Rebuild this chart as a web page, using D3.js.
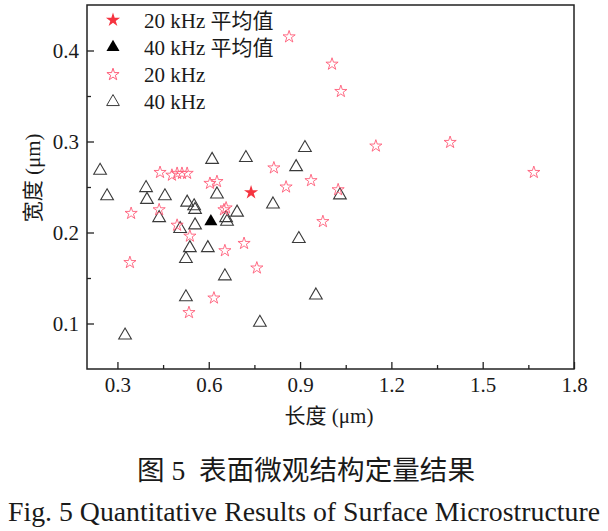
<!DOCTYPE html>
<html>
<head>
<meta charset="utf-8">
<script src="https://cdn.jsdelivr.net/npm/d3@7"></script>
<style>
  body { margin: 0; background: #fff; }
  text { font-family: "Liberation Serif", "Noto Sans CJK SC", serif; fill: #1a1a1a; }
</style>
</head>
<body>
<div id="chart"></div>
<script>
// 20 kHz samples: length / width (um)
const len20 = [0.440, 0.479, 0.496, 0.512, 0.529, 0.345, 0.437, 0.496, 0.538, 0.604,
               0.627, 0.650, 0.657, 0.716, 0.653, 0.758, 0.341, 0.617, 0.535, 0.814,
               0.854, 0.936, 1.025, 0.975, 0.864, 1.005, 1.034, 1.149, 1.393, 1.668];
const wid20 = [0.266, 0.263, 0.265, 0.265, 0.265, 0.221, 0.225, 0.208, 0.196, 0.254,
               0.256, 0.225, 0.227, 0.188, 0.180, 0.161, 0.167, 0.128, 0.112, 0.271,
               0.250, 0.257, 0.247, 0.212, 0.415, 0.385, 0.355, 0.295, 0.299, 0.266];

// 40 kHz samples
const len40 = [0.243, 0.266, 0.394, 0.397, 0.456, 0.611, 0.722, 0.529, 0.552, 0.555,
               0.437, 0.506, 0.555, 0.627, 0.538, 0.597, 0.525, 0.653, 0.525, 0.768,
               0.325, 0.657, 0.660, 0.693, 0.811, 0.916, 0.887, 1.031, 0.896, 0.952];
const wid40 = [0.268, 0.240, 0.249, 0.236, 0.240, 0.280, 0.282, 0.233, 0.229, 0.225,
               0.216, 0.204, 0.208, 0.242, 0.183, 0.183, 0.171, 0.152, 0.129, 0.101,
               0.087, 0.216, 0.212, 0.222, 0.231, 0.293, 0.272, 0.241, 0.193, 0.131];

// mean values [length, width]
const mean20 = [0.739, 0.244];
const mean40 = [0.607, 0.212];

const xTicks = [0.3, 0.6, 0.9, 1.2, 1.5, 1.8];
const xMinor = [0.45, 0.75, 1.05, 1.35, 1.65];
const yTicks = [0.1, 0.2, 0.3, 0.4];
const yMinor = [0.15, 0.25, 0.35];
const legendLabels = ['20 kHz 平均值', '40 kHz 平均值', '20 kHz', '40 kHz'];

// dimensions
const W = 608, H = 531;
const margin = { top: 5, left: 87 };
const width = 487, height = 364;

const starColor = '#ff5c78';
const meanStarColor = '#f5333f';
const triColor = '#3a3a3a';

const svg = d3.select('#chart')
  .append('svg')
  .attr('width', W)
  .attr('height', H);

const g = svg.append('g')
  .attr('transform', `translate(${margin.left},${margin.top})`);

const x = d3.scaleLinear().domain([0.2, 1.8]).range([0, width]);
const y = d3.scaleLinear().domain([0.05, 0.45]).range([height, 0]);

// major ticks point inward
const xAxis = d3.axisBottom(x).tickValues(xTicks).tickSizeInner(-7).tickSizeOuter(0)
  .tickPadding(8).tickFormat(d3.format('.1f'));
const yAxis = d3.axisLeft(y).tickValues(yTicks).tickSizeInner(-7).tickSizeOuter(0)
  .tickPadding(8).tickFormat(d3.format('.1f'));

const gx = g.append('g').attr('transform', `translate(0,${height})`).call(xAxis);
const gy = g.append('g').call(yAxis);

// minor ticks
const gxm = g.append('g').attr('transform', `translate(0,${height})`)
  .call(d3.axisBottom(x).tickValues(xMinor).tickSizeInner(-4).tickSizeOuter(0).tickFormat(''));
const gym = g.append('g')
  .call(d3.axisLeft(y).tickValues(yMinor).tickSizeInner(-4).tickSizeOuter(0).tickFormat(''));

[gx, gy, gxm, gym].forEach(a => {
  a.select('.domain').remove();
  a.selectAll('line').attr('stroke', '#222').attr('stroke-width', 1.3);
  a.selectAll('text').style('font-size', '21px').attr('fill', '#1a1a1a');
});

// frame
g.append('rect')
  .attr('x', 0).attr('y', 0)
  .attr('width', width).attr('height', height)
  .attr('fill', 'none')
  .attr('stroke', '#222')
  .attr('stroke-width', 1.5);

// symbols
const star = d3.symbol().type(d3.symbolStar).size(46);
const starBig = d3.symbol().type(d3.symbolStar).size(62);
const tri = d3.symbol().type(d3.symbolTriangle).size(70);
const triBig = d3.symbol().type(d3.symbolTriangle).size(74);

const pts40 = len40.map((v, i) => [v, wid40[i]]);
const pts20 = len20.map((v, i) => [v, wid20[i]]);

g.selectAll('.p40')
  .data(pts40)
  .enter()
  .append('path')
  .attr('class', 'p40')
  .attr('d', tri)
  .attr('transform', d => `translate(${x(d[0])},${y(d[1])})`)
  .attr('fill', 'none')
  .attr('stroke', triColor)
  .attr('stroke-width', 1.1);

g.selectAll('.p20')
  .data(pts20)
  .enter()
  .append('path')
  .attr('class', 'p20')
  .attr('d', star)
  .attr('transform', d => `translate(${x(d[0])},${y(d[1])})`)
  .attr('fill', 'none')
  .attr('stroke', starColor)
  .attr('stroke-width', 0.9);

g.append('path')
  .attr('d', starBig)
  .attr('transform', `translate(${x(mean20[0])},${y(mean20[1])})`)
  .attr('fill', meanStarColor);

g.append('path')
  .attr('d', triBig)
  .attr('transform', `translate(${x(mean40[0])},${y(mean40[1])})`)
  .attr('fill', '#000');

// legend
const legend = g.append('g').attr('transform', 'translate(26, 15)');
const legendSym = [
  { d: starBig, fill: meanStarColor, stroke: 'none' },
  { d: triBig, fill: '#000', stroke: 'none' },
  { d: star, fill: 'none', stroke: starColor },
  { d: tri, fill: 'none', stroke: triColor }
];
legendLabels.forEach((lab, i) => {
  const row = legend.append('g').attr('transform', `translate(0, ${i * 27.3})`);
  row.append('path')
    .attr('d', legendSym[i].d)
    .attr('fill', legendSym[i].fill)
    .attr('stroke', legendSym[i].stroke)
    .attr('stroke-width', 1);
  row.append('text')
    .attr('x', 31)
    .attr('y', 7.5)
    .style('font-size', '21px')
    .text(lab);
});

// axis titles
svg.append('text')
  .attr('x', margin.left + x(0.995))
  .attr('y', 423)
  .attr('text-anchor', 'middle')
  .style('font-size', '21px')
  .text('长度 (μm)');

svg.append('text')
  .attr('transform', `translate(40, ${margin.top + y(0.26)}) rotate(-90)`)
  .attr('text-anchor', 'middle')
  .style('font-size', '21px')
  .text('宽度 (μm)');

// captions
svg.append('text')
  .attr('x', 137)
  .attr('y', 480)
  .attr('textLength', 338)
  .attr('lengthAdjust', 'spacingAndGlyphs')
  .style('font-size', '27px')
  .style('white-space', 'pre')
  .text('图 5  表面微观结构定量结果');

svg.append('text')
  .attr('x', 8)
  .attr('y', 521)
  .attr('textLength', 592)
  .attr('lengthAdjust', 'spacingAndGlyphs')
  .style('font-size', '28px')
  .text('Fig. 5 Quantitative Results of Surface Microstructure');
</script>
</body>
</html>
